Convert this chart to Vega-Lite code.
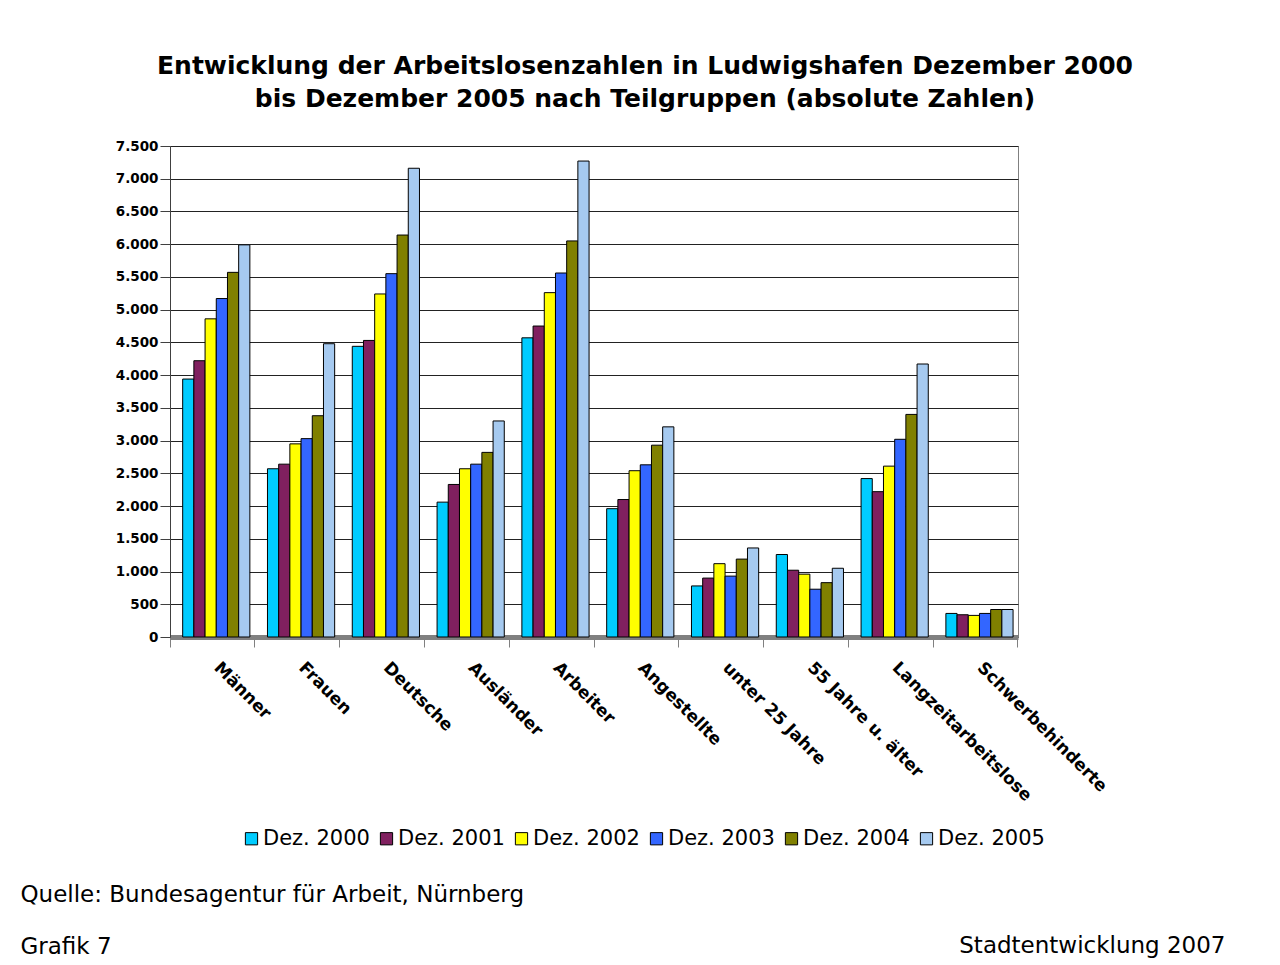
{
  "$schema": "https://vega.github.io/schema/vega-lite/v6.json",
  "width": 848,
  "height": 491,
  "autosize": {"type": "none"},
  "padding": {"left": 170, "top": 146, "right": 262, "bottom": 328},
  "background": "white",
  "title": {
    "text": ["Entwicklung der Arbeitslosenzahlen in Ludwigshafen Dezember 2000", "bis Dezember 2005 nach Teilgruppen (absolute Zahlen)"],
    "font": "DejaVu Sans",
    "fontSize": 25,
    "fontWeight": "bold",
    "lineHeight": 33,
    "anchor": "middle",
    "frame": "group",
    "dx": 51,
    "offset": 27,
    "color": "black"
  },
  "data": {
    "values": [
      {"Gruppe": "Männer", "Jahr": "Dez. 2000", "Wert": 3940},
      {"Gruppe": "Männer", "Jahr": "Dez. 2001", "Wert": 4220},
      {"Gruppe": "Männer", "Jahr": "Dez. 2002", "Wert": 4860},
      {"Gruppe": "Männer", "Jahr": "Dez. 2003", "Wert": 5170},
      {"Gruppe": "Männer", "Jahr": "Dez. 2004", "Wert": 5570},
      {"Gruppe": "Männer", "Jahr": "Dez. 2005", "Wert": 5990},
      {"Gruppe": "Frauen", "Jahr": "Dez. 2000", "Wert": 2570},
      {"Gruppe": "Frauen", "Jahr": "Dez. 2001", "Wert": 2640},
      {"Gruppe": "Frauen", "Jahr": "Dez. 2002", "Wert": 2950},
      {"Gruppe": "Frauen", "Jahr": "Dez. 2003", "Wert": 3030},
      {"Gruppe": "Frauen", "Jahr": "Dez. 2004", "Wert": 3380},
      {"Gruppe": "Frauen", "Jahr": "Dez. 2005", "Wert": 4480},
      {"Gruppe": "Deutsche", "Jahr": "Dez. 2000", "Wert": 4440},
      {"Gruppe": "Deutsche", "Jahr": "Dez. 2001", "Wert": 4530},
      {"Gruppe": "Deutsche", "Jahr": "Dez. 2002", "Wert": 5240},
      {"Gruppe": "Deutsche", "Jahr": "Dez. 2003", "Wert": 5550},
      {"Gruppe": "Deutsche", "Jahr": "Dez. 2004", "Wert": 6140},
      {"Gruppe": "Deutsche", "Jahr": "Dez. 2005", "Wert": 7160},
      {"Gruppe": "Ausländer", "Jahr": "Dez. 2000", "Wert": 2060},
      {"Gruppe": "Ausländer", "Jahr": "Dez. 2001", "Wert": 2330},
      {"Gruppe": "Ausländer", "Jahr": "Dez. 2002", "Wert": 2570},
      {"Gruppe": "Ausländer", "Jahr": "Dez. 2003", "Wert": 2640},
      {"Gruppe": "Ausländer", "Jahr": "Dez. 2004", "Wert": 2820},
      {"Gruppe": "Ausländer", "Jahr": "Dez. 2005", "Wert": 3300},
      {"Gruppe": "Arbeiter", "Jahr": "Dez. 2000", "Wert": 4570},
      {"Gruppe": "Arbeiter", "Jahr": "Dez. 2001", "Wert": 4750},
      {"Gruppe": "Arbeiter", "Jahr": "Dez. 2002", "Wert": 5260},
      {"Gruppe": "Arbeiter", "Jahr": "Dez. 2003", "Wert": 5560},
      {"Gruppe": "Arbeiter", "Jahr": "Dez. 2004", "Wert": 6050},
      {"Gruppe": "Arbeiter", "Jahr": "Dez. 2005", "Wert": 7270},
      {"Gruppe": "Angestellte", "Jahr": "Dez. 2000", "Wert": 1960},
      {"Gruppe": "Angestellte", "Jahr": "Dez. 2001", "Wert": 2100},
      {"Gruppe": "Angestellte", "Jahr": "Dez. 2002", "Wert": 2540},
      {"Gruppe": "Angestellte", "Jahr": "Dez. 2003", "Wert": 2630},
      {"Gruppe": "Angestellte", "Jahr": "Dez. 2004", "Wert": 2930},
      {"Gruppe": "Angestellte", "Jahr": "Dez. 2005", "Wert": 3210},
      {"Gruppe": "unter 25 Jahre", "Jahr": "Dez. 2000", "Wert": 780},
      {"Gruppe": "unter 25 Jahre", "Jahr": "Dez. 2001", "Wert": 900},
      {"Gruppe": "unter 25 Jahre", "Jahr": "Dez. 2002", "Wert": 1120},
      {"Gruppe": "unter 25 Jahre", "Jahr": "Dez. 2003", "Wert": 930},
      {"Gruppe": "unter 25 Jahre", "Jahr": "Dez. 2004", "Wert": 1190},
      {"Gruppe": "unter 25 Jahre", "Jahr": "Dez. 2005", "Wert": 1360},
      {"Gruppe": "55 Jahre u. älter", "Jahr": "Dez. 2000", "Wert": 1260},
      {"Gruppe": "55 Jahre u. älter", "Jahr": "Dez. 2001", "Wert": 1020},
      {"Gruppe": "55 Jahre u. älter", "Jahr": "Dez. 2002", "Wert": 960},
      {"Gruppe": "55 Jahre u. älter", "Jahr": "Dez. 2003", "Wert": 730},
      {"Gruppe": "55 Jahre u. älter", "Jahr": "Dez. 2004", "Wert": 830},
      {"Gruppe": "55 Jahre u. älter", "Jahr": "Dez. 2005", "Wert": 1050},
      {"Gruppe": "Langzeitarbeitslose", "Jahr": "Dez. 2000", "Wert": 2420},
      {"Gruppe": "Langzeitarbeitslose", "Jahr": "Dez. 2001", "Wert": 2220},
      {"Gruppe": "Langzeitarbeitslose", "Jahr": "Dez. 2002", "Wert": 2610},
      {"Gruppe": "Langzeitarbeitslose", "Jahr": "Dez. 2003", "Wert": 3020},
      {"Gruppe": "Langzeitarbeitslose", "Jahr": "Dez. 2004", "Wert": 3400},
      {"Gruppe": "Langzeitarbeitslose", "Jahr": "Dez. 2005", "Wert": 4170},
      {"Gruppe": "Schwerbehinderte", "Jahr": "Dez. 2000", "Wert": 360},
      {"Gruppe": "Schwerbehinderte", "Jahr": "Dez. 2001", "Wert": 340},
      {"Gruppe": "Schwerbehinderte", "Jahr": "Dez. 2002", "Wert": 330},
      {"Gruppe": "Schwerbehinderte", "Jahr": "Dez. 2003", "Wert": 360},
      {"Gruppe": "Schwerbehinderte", "Jahr": "Dez. 2004", "Wert": 420},
      {"Gruppe": "Schwerbehinderte", "Jahr": "Dez. 2005", "Wert": 420}
    ]
  },
  "mark": {"type": "bar", "stroke": "black", "strokeWidth": 1},
  "encoding": {
    "x": {
      "field": "Gruppe",
      "type": "nominal",
      "sort": null,
      "scale": {"paddingInner": 0, "paddingOuter": 0},
      "axis": {
        "title": ["Quelle: Bundesagentur für Arbeit, Nürnberg", "Grafik 7"],
        "titleFont": "DejaVu Sans",
        "titleFontSize": 23,
        "titleFontWeight": "normal",
        "titleColor": "black",
        "titleLineHeight": 52,
        "titleAlign": "left",
        "titleAnchor": "start",
        "titleAngle": 0,
        "titleBaseline": "alphabetic",
        "titleX": -150,
        "titleY": 264,
        "labelAngle": 45,
        "labelAlign": "left",
        "labelBaseline": "top",
        "labelFont": "DejaVu Sans",
        "labelFontSize": 17,
        "labelFontWeight": "bold",
        "labelColor": "black",
        "labelPadding": 12,
        "labelOffset": 10,
        "labelLimit": 300,
        "bandPosition": 1,
        "tickExtra": true,
        "tickSize": 10,
        "tickColor": "#808080",
        "domainColor": "#808080",
        "domainWidth": 5
      }
    },
    "xOffset": {
      "field": "Jahr",
      "type": "nominal",
      "scale": {"paddingInner": 0, "paddingOuter": 0.786, "align": 0.72}
    },
    "y": {
      "field": "Wert",
      "type": "quantitative",
      "scale": {"domain": [0, 7500], "nice": false},
      "axis": {
        "values": [0, 500, 1000, 1500, 2000, 2500, 3000, 3500, 4000, 4500, 5000, 5500, 6000, 6500, 7000, 7500],
        "format": ",d",
        "labelFont": "DejaVu Sans",
        "labelFontSize": 13.5,
        "labelFontWeight": "bold",
        "labelColor": "black",
        "labelPadding": 2,
        "tickSize": 10,
        "tickColor": "#404040",
        "domainColor": "#404040",
        "grid": true,
        "gridColor": "#222222",
        "gridWidth": 1,
        "title": "Stadtentwicklung 2007",
        "titleFont": "DejaVu Sans",
        "titleFontSize": 23,
        "titleFontWeight": "normal",
        "titleColor": "black",
        "titleAngle": 0,
        "titleAlign": "right",
        "titleBaseline": "alphabetic",
        "titleX": 1055,
        "titleY": 806
      }
    },
    "color": {
      "field": "Jahr",
      "type": "nominal",
      "scale": {
        "domain": ["Dez. 2000", "Dez. 2001", "Dez. 2002", "Dez. 2003", "Dez. 2004", "Dez. 2005"],
        "range": ["#00CCFF", "#80205F", "#FFFF00", "#3366FF", "#808000", "#A6CAF0"]
      },
      "legend": {
        "title": null,
        "orient": "none",
        "legendX": 71,
        "legendY": 682,
        "direction": "horizontal",
        "symbolType": "square",
        "symbolSize": 150,
        "symbolStrokeColor": "black",
        "symbolStrokeWidth": 1,
        "symbolOpacity": 1,
        "labelFont": "DejaVu Sans",
        "labelFontSize": 21,
        "labelColor": "black",
        "labelOffset": 1,
        "columnPadding": 6,
        "padding": 0,
        "labelLimit": 300
      }
    }
  },
  "config": {
    "locale": {"number": {"decimal": ",", "thousands": ".", "grouping": [3], "currency": ["", " €"]}},
    "view": {"stroke": "#808080", "strokeWidth": 1},
    "axis": {"zindex": 0}
  }
}
